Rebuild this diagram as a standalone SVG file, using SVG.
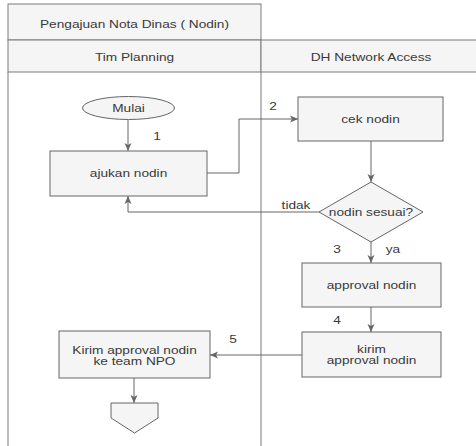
<svg xmlns="http://www.w3.org/2000/svg" width="476" height="446" viewBox="0 0 476 446">
  <defs>
    <style>
      .hdr { fill: #f5f5f5; stroke: #7a7a7a; stroke-width: 1; }
      .lane { fill: none; stroke: #7a7a7a; stroke-width: 1; }
      .box { fill: #f5f5f5; stroke: #666666; stroke-width: 1; }
      .edge { fill: none; stroke: #666666; stroke-width: 1; }
      text { font-family: "Liberation Sans", Arial, sans-serif; font-size: 10.2px; fill: #3a3a3a; text-anchor: middle; }
    </style>
    <marker id="arrow" viewBox="0 0 8 8" refX="8" refY="4" markerWidth="8" markerHeight="8" markerUnits="userSpaceOnUse" orient="auto">
      <path d="M0,0.5 L8,4 L0,7.5 L2,4 Z" fill="#666666"/>
    </marker>
  </defs>

  <rect width="476" height="446" fill="#ffffff"/>

  <!-- pool / lanes -->
  <g id="pool">
    <rect class="hdr" x="8" y="4" width="253" height="36"/>
    <text transform="translate(134.5,27.5) scale(1.34,1)">Pengajuan Nota Dinas ( Nodin)</text>
    <rect class="hdr" x="8" y="40" width="253" height="32"/>
    <text transform="translate(134.5,61.3) scale(1.34,1)">Tim Planning</text>
    <path class="hdr" d="M480,40 L261,40 L261,72 L480,72"/>
    <text transform="translate(371,61.3) scale(1.34,1)">DH Network Access</text>
    <path class="lane" d="M8,72 L8,446 M261,72 L261,446"/>
  </g>

  <!-- connectors -->
  <g id="connectors">
    <path class="edge" d="M128,120 L128,151" marker-end="url(#arrow)"/>
    <path class="edge" d="M207,173 L239,173 L239,119 L298,119" marker-end="url(#arrow)"/>
    <path class="edge" d="M371,141 L371,182" marker-end="url(#arrow)"/>
    <path class="edge" d="M319,212 L128,212 L128,196" marker-end="url(#arrow)"/>
    <path class="edge" d="M371,242 L371,263" marker-end="url(#arrow)"/>
    <path class="edge" d="M371,307 L371,332" marker-end="url(#arrow)"/>
    <path class="edge" d="M302,355 L210,355" marker-end="url(#arrow)"/>
    <path class="edge" d="M134,378 L134,403" marker-end="url(#arrow)"/>
    <text transform="translate(157,140) scale(1.34,1)">1</text>
    <text transform="translate(273,110) scale(1.34,1)">2</text>
    <text transform="translate(296,209) scale(1.34,1)">tidak</text>
    <text transform="translate(337,253) scale(1.34,1)">3</text>
    <text transform="translate(393,253) scale(1.34,1)">ya</text>
    <text transform="translate(337,324) scale(1.34,1)">4</text>
    <text transform="translate(233,343) scale(1.34,1)">5</text>
  </g>

  <g id="mulai">
    <ellipse class="box" cx="128.5" cy="108" rx="46" ry="11.5"/>
    <text transform="translate(128.5,112) scale(1.34,1)">Mulai</text>
  </g>

  <g id="ajukan-nodin">
    <rect class="box" x="50" y="151" width="157" height="45"/>
    <text transform="translate(128.5,177) scale(1.34,1)">ajukan nodin</text>
  </g>

  <g id="cek-nodin">
    <rect class="box" x="298" y="97" width="145" height="44"/>
    <text transform="translate(370.5,123) scale(1.34,1)">cek nodin</text>
  </g>

  <g id="nodin-sesuai">
    <polygon class="box" points="371,182 423,212 371,242 319,212"/>
    <text transform="translate(371,216) scale(1.34,1)">nodin sesuai?</text>
  </g>

  <g id="approval-nodin">
    <rect class="box" x="302" y="263" width="139" height="44"/>
    <text transform="translate(371.5,289) scale(1.34,1)">approval nodin</text>
  </g>

  <g id="kirim-approval">
    <rect class="box" x="302" y="332" width="139" height="45"/>
    <text transform="translate(371.5,353) scale(1.34,1)">kirim</text>
    <text transform="translate(371.5,364) scale(1.34,1)">approval nodin</text>
  </g>

  <g id="kirim-npo">
    <rect class="box" x="59" y="331" width="151" height="47"/>
    <text transform="translate(134.5,353.5) scale(1.34,1)">Kirim approval nodin</text>
    <text transform="translate(134.5,364.5) scale(1.34,1)">ke team NPO</text>
  </g>

  <g id="offpage">
    <polygon class="box" points="111,403 158,403 158,418 134.5,433 111,418"/>
  </g>
</svg>
